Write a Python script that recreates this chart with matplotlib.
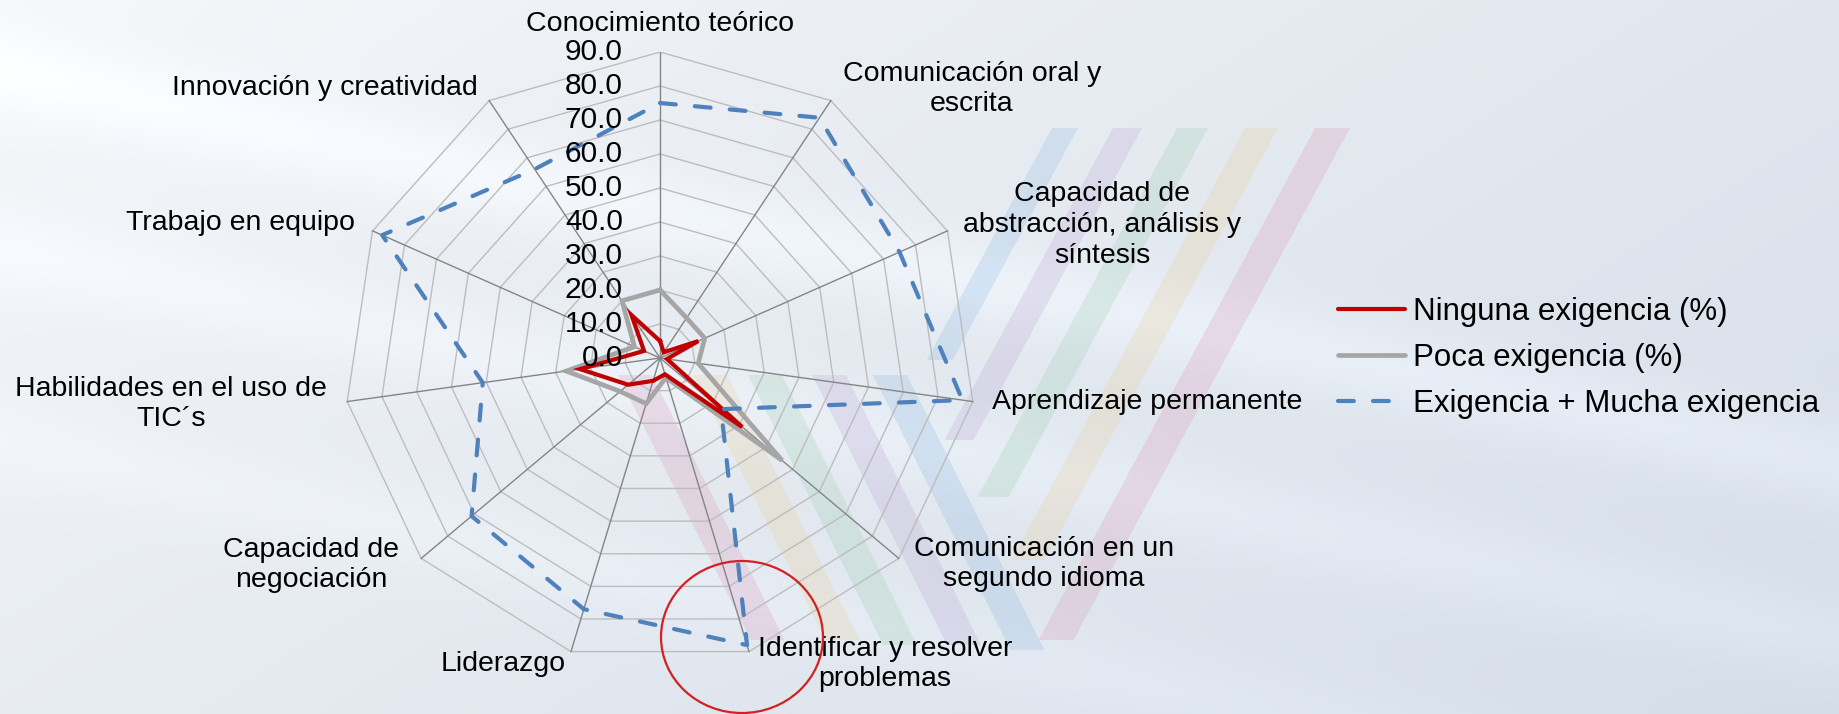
import numpy as np
import matplotlib.pyplot as plt
from matplotlib.patches import Polygon, Ellipse
from matplotlib.lines import Line2D

plt.rcParams['font.family'] = ['Liberation Sans', 'DejaVu Sans']

# ---- data -------------------------------------------------------------
categories = [
    'Conocimiento teórico',
    'Comunicación oral y\nescrita',
    'Capacidad de\nabstracción, análisis y\nsíntesis',
    'Aprendizaje permanente',
    'Comunicación en un\nsegundo idioma',
    'Identificar y resolver\nproblemas',
    'Liderazgo',
    'Capacidad de\nnegociación',
    'Habilidades en el uso de\nTIC´s',
    'Trabajo en equipo',
    'Innovación y creatividad',
]
ninguna = [5, 2, 12, 2, 31, 5, 7, 12, 23, 5, 15]
poca = [20, 14, 14, 11, 46, 6, 14, 15, 27, 8, 20]
exigencia = [75, 84, 75, 87, 23, 88, 77, 71, 51, 87, 66]
series_names = ['Ninguna exigencia (%)', 'Poca exigencia (%)',
                'Exigencia + Mucha exigencia']
ticks = [0, 10, 20, 30, 40, 50, 60, 70, 80, 90]

# ---- layout (pixels of the 1840x714 canvas) ---------------------------
W, H = 1840, 714
cx, cy = 660, 358          # radar centre
rx, ry = 316, 306          # radius of the 90 ring, x and y
label_pos = [(660, 24), (972, 89), (1102, 225), (1147, 402), (1044, 564),
             (885, 664), (503, 664), (311, 565), (171, 404), (240, 223),
             (325, 88)]

fig = plt.figure(figsize=(W / 100, H / 100), dpi=100)

# background gradient
bg = fig.add_axes([0, 0, 1, 1])
bg.axis('off')
yy, xx = np.mgrid[0:1:300j, 0:1:600j]
t = np.clip(0.62 * xx + 0.38 * yy, 0, 1)
light = np.array([0.965, 0.972, 0.982])
dark = np.array([0.835, 0.868, 0.910])
img = light + (dark - light) * t[..., None] ** 0.9
# soft light bands running down-right
for off, amp in [(0.10, 0.035), (0.35, 0.025), (0.62, 0.02)]:
    d = (yy - 0.55 * xx) - off
    img += amp * np.exp(-(d / 0.06) ** 2)[..., None]
bg.imshow(np.clip(img, 0, 1), extent=(0, W, H, 0), aspect='auto')
bg.set_xlim(0, W)
bg.set_ylim(H, 0)

stripe_cols = ['#7FB0DE', '#B49ACF', '#8FC9A5', '#E8C98A', '#D98BB0']
# upper stripes, leaning down-left
for x0, w, yb, c in zip([1052, 1113, 1177, 1245, 1315], [26, 29, 31, 33, 35],
                        [360, 440, 497, 560, 640], stripe_cols):
    k = -0.54
    pts = [(x0, 128), (x0 + w, 128), (x0 + w + k * (yb - 128), yb),
           (x0 + k * (yb - 128), yb)]
    bg.add_patch(Polygon(pts, closed=True, fc=c, ec='none', alpha=0.22))
# lower stripes, leaning down-right
for x0, yb, c in zip([618, 693, 748, 812, 873], [640, 640, 645, 645, 650],
                     ['#D98BB0', '#E8C98A', '#8FC9A5', '#B49ACF', '#7FB0DE']):
    k = 0.5
    w = 34
    pts = [(x0, 375), (x0 + w, 375), (x0 + w + k * (yb - 375), yb),
           (x0 + k * (yb - 375), yb)]
    bg.add_patch(Polygon(pts, closed=True, fc=c, ec='none', alpha=0.22))

# radar axes: data units 0..90 in every direction
ax = fig.add_axes([(cx - rx) / W, (H - cy - ry) / H, 2 * rx / W, 2 * ry / H])
ax.set_xlim(-90, 90)
ax.set_ylim(-90, 90)
ax.axis('off')

n = len(categories)
theta = np.pi / 2 - 2 * np.pi * np.arange(n) / n
ct, st = np.cos(theta), np.sin(theta)

for r in ticks[1:]:
    ax.plot(np.append(r * ct, r * ct[0]), np.append(r * st, r * st[0]),
            color='#BDBDBD', lw=1.0, zorder=1)
for i in range(n):
    ax.plot([0, ticks[-1] * ct[i]], [0, ticks[-1] * st[i]],
            color='#858585', lw=1.0, zorder=1)


def closed(vals):
    v = np.asarray(vals, float)
    return np.append(v * ct, v[0] * ct[0]), np.append(v * st, v[0] * st[0])


x, y = closed(poca)
ax.plot(x, y, color='#A6A6A6', lw=3.4, zorder=3, solid_joinstyle='miter')
x, y = closed(ninguna)
ax.plot(x, y, color='#C00000', lw=3.0, zorder=4, solid_joinstyle='miter')
x, y = closed(exigencia)
ax.plot(x, y, color='#4F81BD', lw=3.0, zorder=5, dashes=(3.8, 4.6),
        dash_capstyle='round')

tick_x = (623 - cx) / rx * 90
for r in ticks:
    ax.text(tick_x, r, f'{r:.1f}', ha='right', va='center', fontsize=21.5,
            color='black', zorder=6, clip_on=False)

for lab, (px, py) in zip(categories, label_pos):
    ax.text((px - cx) / rx * 90, (cy - py) / ry * 90, lab, ha='center',
            va='center', multialignment='center', fontsize=20.5,
            linespacing=1.24, clip_on=False)

handles = [Line2D([], [], color='#C00000', lw=3.0, solid_capstyle='round'),
           Line2D([], [], color='#A6A6A6', lw=3.4, solid_capstyle='round'),
           Line2D([], [], color='#4F81BD', lw=3.0, dashes=(3.8, 4.6),
                  dash_capstyle='round')]
fig.legend(handles, series_names, loc='center left',
           bbox_to_anchor=(1338 / W, 1 - 358 / H), frameon=False,
           fontsize=22.5, handlelength=2.15, handletextpad=0.26,
           labelspacing=0.5, borderpad=0, borderaxespad=0)

# red highlight circle around "Identificar y resolver problemas"
fig.add_artist(Ellipse((742 / W, 1 - 637 / H), 162 / W, 152 / H,
                       transform=fig.transFigure, fill=False,
                       ec='#D42020', lw=1.6))

fig.savefig('out.png', dpi=100)
